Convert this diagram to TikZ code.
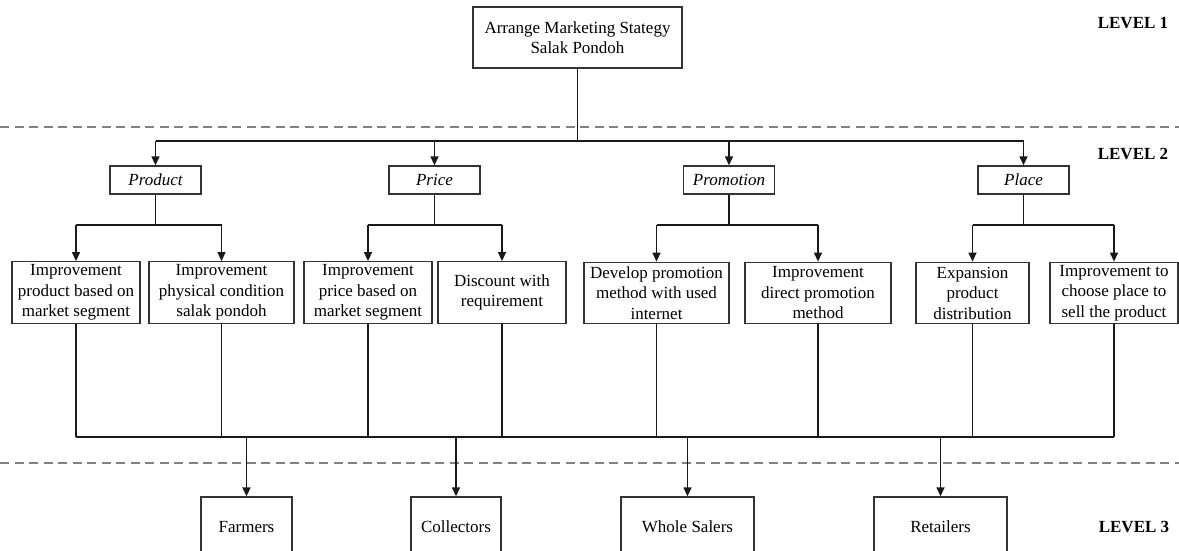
\documentclass[tikz,border=0pt]{standalone}
\usepackage{fontspec}
\setmainfont{Liberation Serif}
\usetikzlibrary{arrows.meta}
\begin{document}
\begin{tikzpicture}[x=1pt,y=-1pt,
  box/.style={draw=black!80,line width=1.3pt,rectangle,inner sep=0pt,align=center,
    font=\fontsize{17}{20.5}\selectfont},
  lvl/.style={font=\fontsize{17}{20}\selectfont\bfseries},
  conn/.style={line width=1.3pt,draw=black!90},
  arr/.style={conn,-{Triangle[length=9pt,width=8pt]}},
  sep/.style={draw=black!50,line width=1.8pt,dash pattern=on 9pt off 5.5pt}]
\useasboundingbox (0,0) rectangle (1179,551);
\clip (0,0) rectangle (1179,551);
% separators
\draw[sep] (0,127) -- (1179,127);
\draw[sep] (0,463) -- (1179,463);
% level labels
\node[lvl] (l1) at (1133,23) {LEVEL 1};
\node[lvl] (l2) at (1133,154) {LEVEL 2};
\node[lvl] (l3) at (1134,527) {LEVEL 3};
% top
\node[box,minimum width=209pt,minimum height=61pt] (top) at (577.5,37.5) {Arrange Marketing Stategy\\Salak Pondoh};
% level 2
\begin{scope}[every node/.append style={box,minimum width=91pt,minimum height=28pt,font=\fontsize{17}{20}\selectfont\itshape}]
\node (prod) at (155.5,180) {Product};
\node (price) at (434.5,180) {Price};
\node (promo) at (729,180) {Promotion};
\node (place) at (1023.5,180) {Place};
\end{scope}
% improvements
\begin{scope}[every node/.append style={box,minimum height=61.5pt}]
\node[minimum width=128pt] (i1) at (76,292.5) {Improvement\\product based on\\market segment};
\node[minimum width=145pt] (i2) at (221.5,292.5) {Improvement\\physical condition\\salak pondoh};
\node[minimum width=128pt] (i3) at (368,292.5) {Improvement\\price based on\\market segment};
\node[minimum width=128pt] (i4) at (502,292.5) {Discount with\\requirement};
\node[minimum width=145pt] (i5) at (656.5,293) {Develop promotion\\method with used\\internet};
\node[minimum width=146pt] (i6) at (818,293) {Improvement\\direct promotion\\method};
\node[minimum width=113pt] (i7) at (972.5,293) {Expansion\\product\\distribution};
\node[minimum width=128pt] (i8) at (1114,293) {Improvement to\\choose place to\\sell the product};
\end{scope}
% actors
\begin{scope}[every node/.append style={box,minimum height=60pt}]
\node[minimum width=91pt] (farm) at (246.5,527) {Farmers};
\node[minimum width=90pt] (coll) at (456,527) {Collectors};
\node[minimum width=133pt] (whole) at (687.5,527) {Whole Salers};
\node[minimum width=133pt] (ret) at (940.5,527) {Retailers};
\end{scope}
% bus coordinates
\coordinate (b1) at (577.5,141);
\coordinate (s) at (0,225);
\coordinate (b3) at (0,437);
% top connectors
\draw[conn] (top.south) -- (b1);
\draw[conn] (b1 -| prod) -- (b1 -| place);
\foreach \n in {prod,price,promo,place}{
  \draw[arr] (b1 -| \n) -- (\n.north);
}
% splits
\foreach \p/\a/\b in {prod/i1/i2,price/i3/i4,promo/i5/i6,place/i7/i8}{
  \draw[conn] (\p.south) -- (s -| \p);
  \draw[conn] (s -| \a) -- (s -| \b);
  \draw[arr] (s -| \a) -- (\a.north);
  \draw[arr] (s -| \b) -- (\b.north);
}
% bottom bus
\foreach \n in {i1,i2,i3,i4,i5,i6,i7,i8}{
  \draw[conn] (\n.south) -- (b3 -| \n);
}
\draw[conn] (b3 -| i1) -- (b3 -| i8);
\draw[conn,line width=1.8pt] (b3 -| i2) -- (b3 -| coll);
\foreach \n in {coll,whole,ret}{
  \draw[arr] (b3 -| \n) -- (\n.north);
}
\draw[arr,line width=1.8pt] (b3 -| farm) -- (farm.north);
\end{tikzpicture}
\end{document}
